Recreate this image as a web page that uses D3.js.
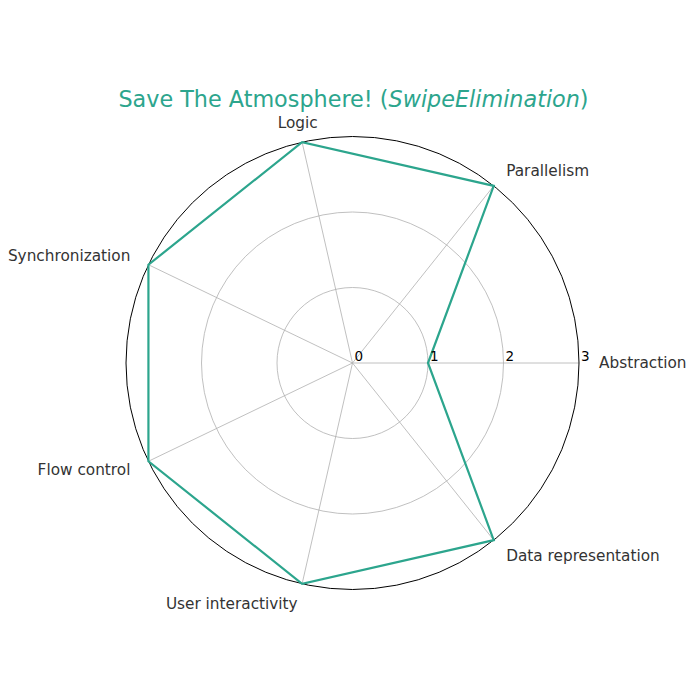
<!DOCTYPE html>
<html><head><meta charset="utf-8">
<script src="https://cdn.jsdelivr.net/npm/d3@7"></script>
<style>body{margin:0;background:#fff}svg{display:block}</style>
</head><body>
<svg id="c" width="700" height="700"></svg>
<script>
const categories = ["Abstraction","Parallelism","Logic","Synchronization","Flow control","User interactivity","Data representation"];
const values = [1,3,3,3,3,3,3];
const tickValues = [0,1,2,3];
const titleMain = "Save The Atmosphere! (";
const titleItalic = "SwipeElimination";
const titleEnd = ")";

const cx = 352.5, cy = 363, R = 226.5;
const color = "#2ca58d";
const svg = d3.select("#c");
const g = svg.append("g").attr("transform", `translate(${cx},${cy})`);
const r = d3.scaleLinear().domain([0,3]).range([0,R]);
const ang = d3.scaleLinear().domain([0, categories.length]).range([0, 2*Math.PI]);
const pt = (i, v) => [r(v)*Math.cos(ang(i)), -r(v)*Math.sin(ang(i))];

// grid circles
[1,2].forEach(t => g.append("circle").attr("r", r(t)).attr("fill","none").attr("stroke","#b0b0b0").attr("stroke-width",0.8));
// spokes
categories.forEach((c,i) => {
  const [x,y] = pt(i,3);
  g.append("line").attr("x1",0).attr("y1",0).attr("x2",x).attr("y2",y).attr("stroke","#b0b0b0").attr("stroke-width",0.8);
});
// outer
g.append("circle").attr("r", r(3)).attr("fill","none").attr("stroke","#000").attr("stroke-width",1);

// data polygon
const line = d3.line().x(d=>d[0]).y(d=>d[1]).curve(d3.curveLinearClosed);
g.append("path").attr("d", line(values.map((v,i)=>pt(i,v))))
  .attr("fill","none").attr("stroke",color).attr("stroke-width",2.2).attr("stroke-linejoin","miter");

// tick labels
tickValues.forEach(t => {
  g.append("text").attr("x", r(t)+2).attr("y", -2).text(t)
   .attr("font-family","DejaVu Sans").attr("font-size",13.5).attr("fill","#000");
});

// category labels
categories.forEach((c,i) => {
  const a = ang(i);
  const d = R + 20;
  const x = d*Math.cos(a), y = -d*Math.sin(a);
  const co = Math.cos(a), si = Math.sin(a);
  let anchor = co > 0.01 ? "start" : (si > 0.9 ? "middle" : "end");
  g.append("text").attr("x",x).attr("y",y).attr("dy","0.35em").attr("text-anchor",anchor)
   .attr("font-family","DejaVu Sans").attr("font-size",15.3).attr("fill","#333").text(c);
});

// title
const tt = svg.append("text").attr("x",353.5).attr("y",107).attr("text-anchor","middle")
  .attr("font-family","DejaVu Sans").attr("font-size",22.3).attr("fill",color);
tt.append("tspan").text(titleMain);
tt.append("tspan").attr("font-style","italic").text(titleItalic);
tt.append("tspan").text(titleEnd);
</script>
</body></html>
